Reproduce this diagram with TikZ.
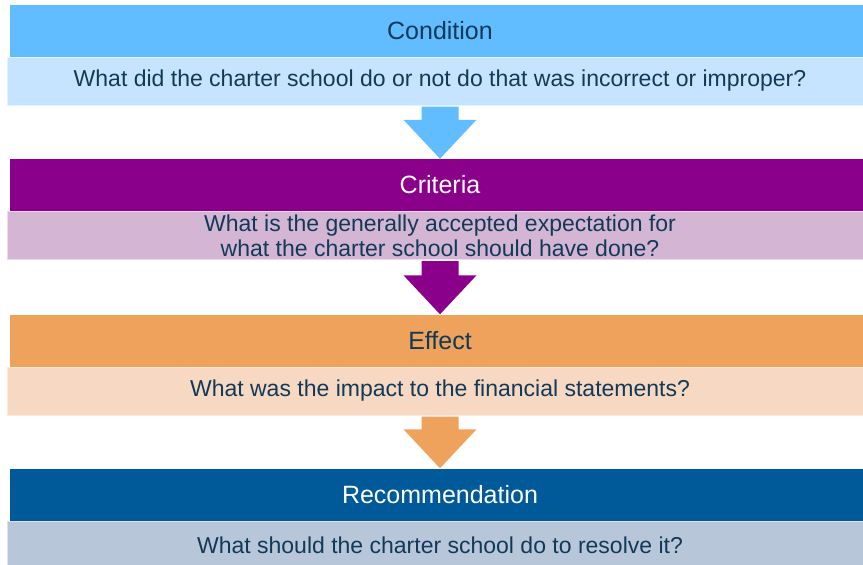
\documentclass[tikz,border=0pt]{standalone}
\usepackage{fontspec}
\setmainfont{Liberation Sans}
\definecolor{condH}{HTML}{61BDFF}
\definecolor{condB}{HTML}{C6E4FF}
\definecolor{critH}{HTML}{8B008B}
\definecolor{critB}{HTML}{D4B5D4}
\definecolor{effH}{HTML}{EEA25B}
\definecolor{effB}{HTML}{F6D8C3}
\definecolor{recH}{HTML}{005A9A}
\definecolor{recB}{HTML}{B8C6D9}
\definecolor{txt}{HTML}{123A58}
\begin{document}
\begin{tikzpicture}[x=1pt,y=-1pt,
  head/.style={rectangle, inner sep=0pt, minimum width=860pt, minimum height=52pt, font=\fontsize{25}{28}\selectfont},
  body/.style={rectangle, inner sep=0pt, minimum width=866pt, minimum height=48pt, align=center, text=txt, font=\fontsize{23}{25}\selectfont, line width=1pt},
  flow/.style={draw=none}]
\useasboundingbox (0,0) rectangle (863,565);
% Condition
\node[head, fill=condH, text=txt] (h1) at (440,31) {Condition};
\node[body, fill=condB, draw=condB!50!white] (b1) at (440,81) {What did the charter school do or not do that was incorrect or improper?};
% Criteria
\node[head, fill=critH, text=white] (h2) at (440,185) {Criteria};
\node[body, fill=critB, draw=critB!50!white] (b2) at (440,235.5) {What is the generally accepted expectation for\\what the charter school should have done?};
% Effect
\node[head, fill=effH, text=txt] (h3) at (440,340.5) {Effect};
\node[body, fill=effB, draw=effB!50!white] (b3) at (440,391) {What was the impact to the financial statements?};
% Recommendation
\node[head, fill=recH, text=white] (h4) at (440,494.5) {Recommendation};
\node[body, fill=recB, draw=recB!50!white] (b4) at (440,545) {What should the charter school do to resolve it?};
% arrows
\foreach \a/\b/\c in {b1/h2/condH, b2/h3/critH, b3/h4/effH}{
  \fill[\c] ([xshift=-18.5pt,yshift=-1pt]\a.south) -- ([xshift=18.5pt,yshift=-1pt]\a.south)
    -- ([xshift=18.5pt,yshift=39pt]\b.north) -- ([xshift=36.5pt,yshift=39pt]\b.north)
    -- (\b.north) -- ([xshift=-36.5pt,yshift=39pt]\b.north)
    -- ([xshift=-18.5pt,yshift=39pt]\b.north) -- cycle;
}
\end{tikzpicture}
\end{document}
